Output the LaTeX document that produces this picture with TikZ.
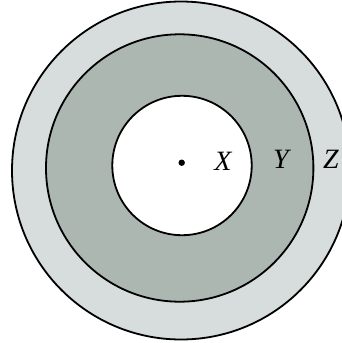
\documentclass[tikz,border=0pt]{standalone}
\usepackage{fontspec}
\setmainfont{Liberation Serif}
\definecolor{ringlight}{RGB}{214,221,220}
\definecolor{ringdark}{RGB}{173,183,177}
\begin{document}
\begin{tikzpicture}[x=1pt,y=-1pt,
  ring/.style={draw=black,line width=1.8pt},
  lbl/.style={font=\fontsize{28}{30}\selectfont\itshape,inner sep=0pt}]
\useasboundingbox (0,0) rectangle (342,343);
\clip (0,0) rectangle (342,343);
\fill[white] (0,0) rectangle (342,343);
\draw[ring,fill=ringlight] (181,170.5) circle[radius=169];
\draw[ring,fill=ringdark] (179.7,168) circle[radius=133.7];
\draw[ring,fill=white] (182,165.5) circle[radius=69.7];
\fill[black] (181.7,162.7) circle[radius=3.2];
\node[lbl] (X) at (223,161) {X};
\node[lbl] (Y) at (281,159.5) {Y};
\node[lbl] (Z) at (331,159.5) {Z};
\end{tikzpicture}
\end{document}
